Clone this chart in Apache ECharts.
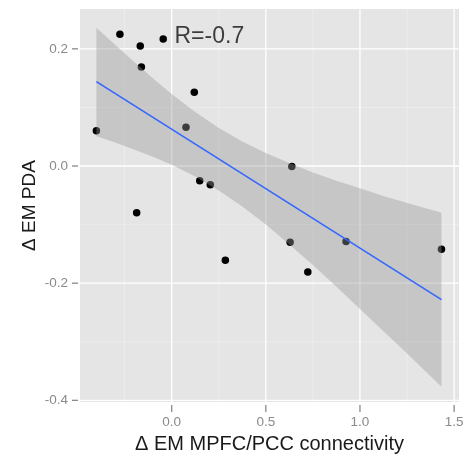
<!DOCTYPE html>
<html>
<head>
<meta charset="utf-8">
<script src="https://cdn.jsdelivr.net/npm/echarts@6/dist/echarts.min.js"></script>
<style>html,body{margin:0;padding:0;background:#fff}#c{width:469px;height:459px}</style>
</head>
<body>
<div id="c"></div>
<script>
// Data points (x: Δ EM MPFC/PCC connectivity, y: Δ EM PDA)
var xVals = [-0.40, -0.275, -0.167, -0.161, -0.045, 0.120, 0.076, 0.149, 0.205, -0.186, 0.638, 0.285, 0.629, 0.723, 0.926, 1.433];
var yVals = [0.060, 0.225, 0.205, 0.169, 0.217, 0.126, 0.066, -0.025, -0.032, -0.080, -0.001, -0.161, -0.130, -0.181, -0.129, -0.142];
// Fitted line
var fitX = [-0.40, 1.433];
var fitY = [0.144, -0.228];
// Confidence band
var bandX = [-0.40, -0.30, -0.20, -0.10, 0.00, 0.125, 0.25, 0.375, 0.50, 0.625, 0.75, 0.875, 1.00, 1.125, 1.25, 1.35, 1.433];
var bandHi = [0.236, 0.207, 0.178, 0.150, 0.123, 0.092, 0.065, 0.042, 0.022, 0.005, -0.011, -0.025, -0.038, -0.051, -0.063, -0.072, -0.080];
var bandLo = [0.051, 0.040, 0.028, 0.016, 0.002, -0.018, -0.042, -0.069, -0.100, -0.134, -0.169, -0.206, -0.244, -0.282, -0.320, -0.351, -0.377];
// Ticks
var xMajor = [0, 0.5, 1.0, 1.5];
var xMinor = [-0.25, 0.25, 0.75, 1.25];
var yMajor = [-0.4, -0.2, 0, 0.2];
var yMinor = [-0.3, -0.1, 0.1];
// Annotation and titles
var annText = 'R=-0.7';
var annPos = [0.2, 0.221];
var xTitle = 'Δ EM MPFC/PCC connectivity';
var yTitle = 'Δ EM PDA';

var FONT = '"Liberation Sans", Arial, Helvetica, sans-serif';
var X_MIN = -0.487, X_MAX = 1.526, Y_MIN = -0.403, Y_MAX = 0.268;
var TICK_COLOR = '#8a8a8a';

var chart = echarts.init(document.getElementById('c'), null, {renderer: 'canvas'});

function axis(vals, isX, name, nameGap, nameSize) {
  return {
    type: 'value',
    min: isX ? X_MIN : Y_MIN,
    max: isX ? X_MAX : Y_MAX,
    position: isX ? 'bottom' : 'left',
    name: name,
    nameLocation: 'middle',
    nameGap: nameGap,
    nameMoveOverlap: isX,
    nameTextStyle: {fontFamily: FONT, fontSize: nameSize, color: '#1a1a1a'},
    axisLine: {show: false, onZero: false},
    axisTick: {show: false, customValues: vals},
    axisLabel: {show: true, customValues: vals, margin: isX ? 13 : 12, fontFamily: FONT, fontSize: 13.5, color: '#8a8a8a',
      formatter: function (v) { return Number(v).toFixed(1); }},
    splitLine: {show: false}
  };
}

// grid lines drawn from tick arrays through the axis scales
function gridSeries(vals, isX, color, width) {
  return {
    type: 'custom',
    data: vals.map(function (v) { return isX ? [v, 0] : [0, v]; }),
    encode: {x: 0, y: 1},
    silent: true,
    renderItem: function (params, api) {
      var v = vals[params.dataIndex];
      var p1 = isX ? api.coord([v, Y_MIN]) : api.coord([X_MIN, v]);
      var p2 = isX ? api.coord([v, Y_MAX]) : api.coord([X_MAX, v]);
      return {type: 'line', shape: {x1: p1[0], y1: p1[1], x2: p2[0], y2: p2[1]},
        style: {stroke: color, lineWidth: width}};
    },
    z: 1
  };
}

// tick marks outside the panel, placed from tick arrays through the axis scales
function tickSeries(vals, isX) {
  return {
    type: 'custom',
    data: vals.map(function (v) { return isX ? [v, Y_MIN] : [X_MIN, v]; }),
    encode: {x: 0, y: 1},
    silent: true,
    clip: false,
    renderItem: function (params, api) {
      var v = vals[params.dataIndex];
      var p = isX ? api.coord([v, Y_MIN]) : api.coord([X_MIN, v]);
      var shape = isX ? {x1: p[0], y1: p[1] + 3, x2: p[0], y2: p[1] + 10}
                      : {x1: p[0] - 8, y1: p[1], x2: p[0] - 2, y2: p[1]};
      return {type: 'line', shape: shape, style: {stroke: TICK_COLOR, lineWidth: 1.3}};
    },
    z: 1
  };
}

var option = {
  animation: false,
  backgroundColor: '#ffffff',
  grid: {left: 80, right: 10, top: 9, bottom: 56, show: true, backgroundColor: '#e5e5e5', borderWidth: 0},
  xAxis: axis(xMajor, true, xTitle, 30, 20),
  yAxis: axis(yMajor, false, yTitle, 41, 19),
  series: [
    gridSeries(xMinor, true, '#f2f2f2', 0.6),
    gridSeries(yMinor, false, '#f2f2f2', 0.6),
    gridSeries(xMajor, true, '#ffffff', 1.3),
    gridSeries(yMajor, false, '#ffffff', 1.3),
    tickSeries(xMajor, true),
    tickSeries(yMajor, false),
    {
      type: 'scatter',
      data: xVals.map(function (x, i) { return [x, yVals[i]]; }),
      symbol: 'circle',
      symbolSize: 7.5,
      itemStyle: {color: '#000000', opacity: 1},
      z: 2
    },
    {
      type: 'custom',
      data: bandX.map(function (x, i) { return [x, bandLo[i], bandHi[i]]; }),
      encode: {x: 0, y: [1, 2]},
      renderItem: function (params, api) {
        if (params.dataIndex !== 0) return null;
        var pts = [];
        for (var i = 0; i < bandX.length; i++) pts.push(api.coord([bandX[i], bandHi[i]]));
        for (var j = bandX.length - 1; j >= 0; j--) pts.push(api.coord([bandX[j], bandLo[j]]));
        return {type: 'polygon', shape: {points: pts}, style: {fill: 'rgba(153,153,153,0.4)'}};
      },
      z: 3
    },
    {
      type: 'line',
      data: fitX.map(function (x, i) { return [x, fitY[i]]; }),
      symbol: 'none',
      lineStyle: {color: '#3366ff', width: 1.6},
      z: 4
    },
    {
      type: 'scatter',
      data: [annPos],
      symbolSize: 1,
      itemStyle: {color: 'rgba(0,0,0,0)'},
      label: {show: true, position: 'inside', formatter: annText, fontFamily: FONT, fontSize: 23, color: '#111111'},
      z: 5
    }
  ]
};
chart.setOption(option);
</script>
</body>
</html>
